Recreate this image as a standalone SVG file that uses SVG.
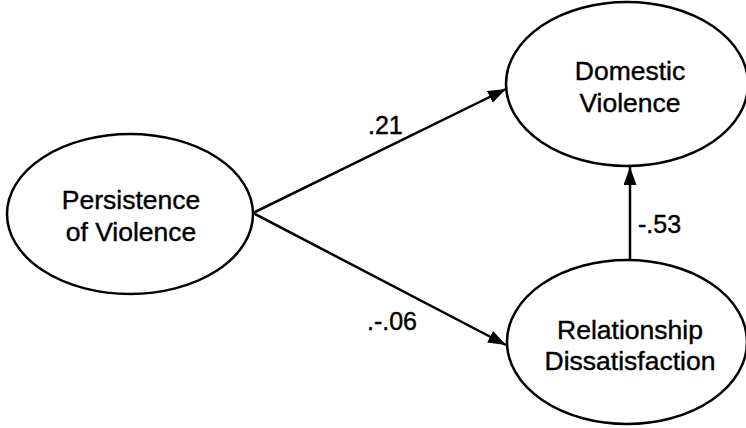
<svg xmlns="http://www.w3.org/2000/svg" width="746" height="428" viewBox="0 0 746 428">
<style>
.node ellipse{fill:#fff;stroke:#000;stroke-width:2.5}
.lbl{font-family:"Liberation Sans",Arial,sans-serif;font-size:26.5px;fill:#000;stroke:#000;stroke-width:0.4;text-anchor:middle}
.num{font-family:"Liberation Sans",Arial,sans-serif;font-size:25px;fill:#000;stroke:#000;stroke-width:0.4}
.edge{stroke:#000;stroke-width:2.5;fill:none;marker-end:url(#ah)}
</style>
<defs>
<marker id="ah" markerUnits="userSpaceOnUse" markerWidth="20" markerHeight="14" refX="18" refY="6.5" orient="auto">
<path d="M0,0 L18,6.5 L0,13 z" fill="#000"/>
</marker>
</defs>
<rect width="746" height="428" fill="#fff"/>
<g id="connectors">
<line class="edge" x1="253" y1="213" x2="506" y2="89"/>
<line class="edge" x1="253" y1="213" x2="506" y2="345"/>
<line class="edge" x1="630" y1="260" x2="630" y2="167"/>
<text class="num" x="368" y="134">.21</text>
<text class="num" x="367" y="330">.-.06</text>
<text class="num" x="638" y="233">-.53</text>
</g>
<g id="persistence" class="node">
<ellipse cx="130" cy="214" rx="123" ry="80"/>
<text class="lbl" x="131" y="209">Persistence</text>
<text class="lbl" x="131" y="241">of Violence</text>
</g>
<g id="domestic" class="node">
<ellipse cx="627" cy="84" rx="121" ry="82"/>
<text class="lbl" x="630" y="80">Domestic</text>
<text class="lbl" x="630" y="112">Violence</text>
</g>
<g id="dissatisfaction" class="node">
<ellipse cx="627" cy="342" rx="120" ry="82"/>
<text class="lbl" x="630" y="339">Relationship</text>
<text class="lbl" x="630" y="370">Dissatisfaction</text>
</g>
</svg>
